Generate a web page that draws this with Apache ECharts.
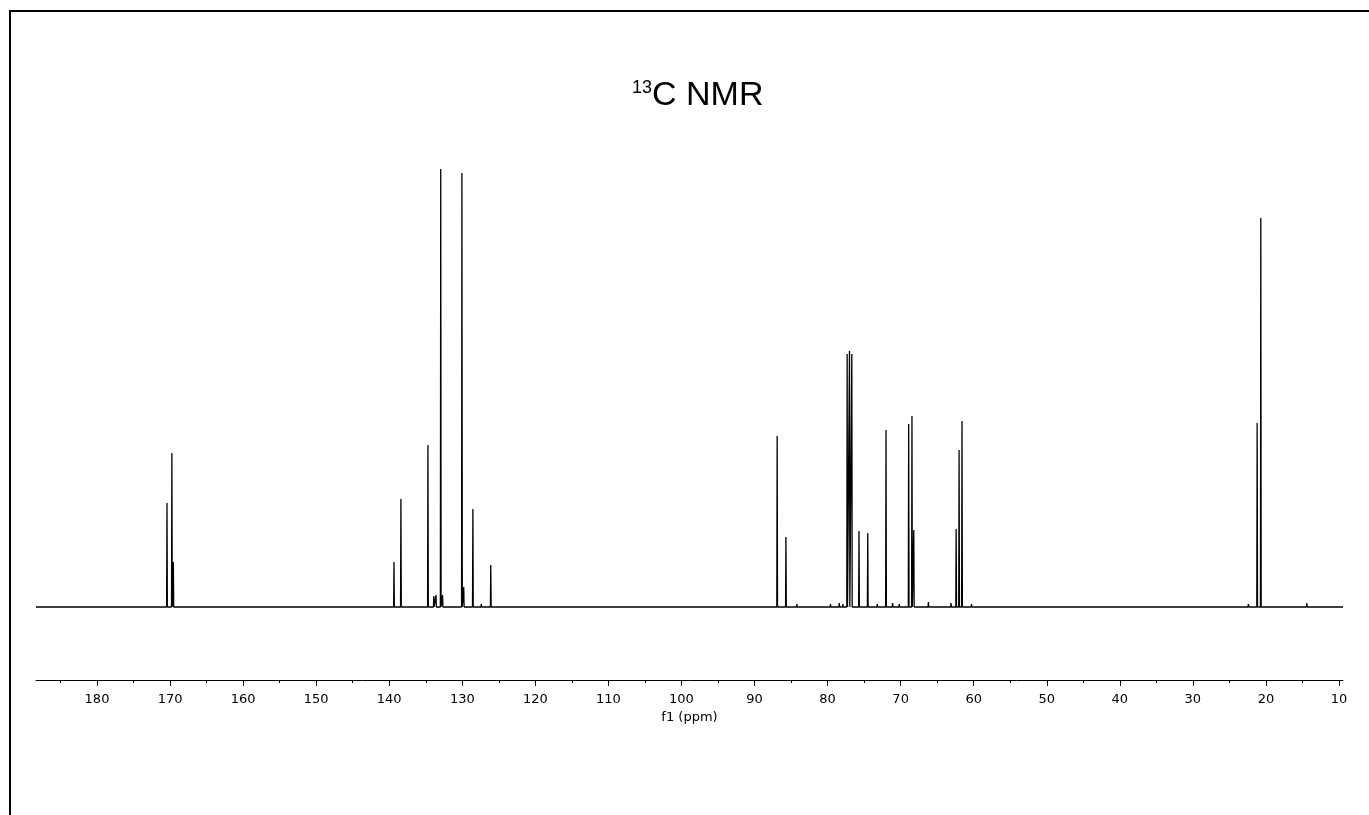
<!DOCTYPE html>
<html>
<head>
<meta charset="utf-8">
<title>13C NMR</title>
<script src="https://cdn.jsdelivr.net/npm/echarts@6/dist/echarts.min.js"></script>
<style>
  html, body { margin: 0; padding: 0; background: #fff; }
  #chart { width: 1369px; height: 815px; }
</style>
</head>
<body>
<div id="chart"></div>
<script>
// Chemical shift range shown on the f1 axis (ppm, drawn high to low)
const shiftMax = 188.35;
const shiftMin = 9.45;

// Resolved signals: chemical shift (ppm) and relative intensity
const peakShifts = [
  170.42, 169.75, 169.55,
  139.35, 138.40, 134.70, 133.90, 133.60, 132.95, 132.70,
  130.05, 129.80, 128.55, 126.10,
  86.90, 85.70,
  77.32, 77.00, 76.68,
  75.70, 74.50, 72.00,
  68.90, 68.45, 68.20,
  62.40, 62.00, 61.60,
  21.20, 20.70
];
const peakIntensities = [
  104, 154, 45,
  45, 108, 162, 11, 12, 438, 12,
  434, 20, 98, 42,
  171, 70,
  253, 256, 253,
  76, 74, 177,
  183, 191, 77,
  78, 157, 186,
  184, 389
];

// Small features sitting on the baseline
const minorShifts = [
  171.2, 168.6, 141.0, 136.2, 127.4, 122.5, 96.0, 88.6, 84.2, 82.6,
  79.6, 78.4, 77.9, 73.2, 71.1, 70.2, 66.2, 63.1, 60.3, 57.5, 22.4, 14.4
];
const minorIntensities = [
  2, -2, 2, 2, 3, -2, 2, 2, 3, 2,
  3, 4, 3, 3, 4, 3, 5, 4, 3, 2, 3, 4
];

// Axis tick labels (ppm)
const majorTicks = [180, 170, 160, 150, 140, 130, 120, 110, 100, 90, 80, 70, 60, 50, 40, 30, 20, 10];
const minorTicks = [185, 175, 165, 155, 145, 135, 125, 115, 105, 95, 85, 75, 65, 55, 45, 35, 25, 15];

// Build the trace: each signal is a narrow stick rising from the baseline
const lineWidthPpm = 0.05;
const signals = [];
peakShifts.forEach((s, i) => signals.push([s, peakIntensities[i]]));
minorShifts.forEach((s, i) => signals.push([s, minorIntensities[i]]));
signals.sort((a, b) => b[0] - a[0]);

const trace = [[shiftMax, 0]];
signals.forEach(([s, h]) => {
  trace.push([s + lineWidthPpm, 0]);
  trace.push([s, h]);
  trace.push([s - lineWidthPpm, 0]);
});
trace.push([shiftMin, 0]);

const chart = echarts.init(document.getElementById('chart'), null, { renderer: 'canvas' });

const tickFont = 'DejaVu Sans, Verdana';

chart.setOption({
  animation: false,
  backgroundColor: '#ffffff',
  title: {
    text: '{sup|13}{main|C NMR}',
    left: 627,
    top: 74,
    textStyle: {
      fontWeight: 'normal',
      rich: {
        sup: { fontFamily: 'Liberation Sans, Arial', fontSize: 18, fontWeight: 'normal', color: '#000', verticalAlign: 'top', padding: [0, 0, 14, 0] },
        main: { fontFamily: 'Liberation Sans, Arial', fontSize: 34, fontWeight: 'normal', color: '#000', verticalAlign: 'bottom' }
      }
    }
  },
  grid: { left: 36, right: 26, top: 169, bottom: 135 },
  xAxis: [
    {
      type: 'value',
      inverse: true,
      min: shiftMin,
      max: shiftMax,
      position: 'bottom',
      name: 'f1 (ppm)',
      nameLocation: 'middle',
      nameGap: 28,
      nameTextStyle: { fontFamily: tickFont, fontSize: 13, color: '#000' },
      axisLine: { show: true, onZero: false, lineStyle: { color: '#000', width: 1 } },
      axisTick: { show: true, length: 6, customValues: majorTicks, lineStyle: { color: '#000', width: 1 } },
      axisLabel: { show: true, customValues: majorTicks, margin: 13, fontFamily: tickFont, fontSize: 13, color: '#000' },
      splitLine: { show: false }
    },
    {
      type: 'value',
      inverse: true,
      min: shiftMin,
      max: shiftMax,
      position: 'bottom',
      axisLine: { show: false, onZero: false },
      axisTick: { show: true, length: 3, customValues: minorTicks, lineStyle: { color: '#000', width: 1 } },
      axisLabel: { show: false },
      splitLine: { show: false }
    }
  ],
  yAxis: {
    type: 'value',
    min: -73,
    max: 438,
    show: false
  },
  series: [
    {
      type: 'line',
      xAxisIndex: 0,
      data: trace,
      showSymbol: false,
      symbol: 'none',
      lineStyle: { color: '#000', width: 1.3 },
      silent: true
    }
  ],
  graphic: [
    {
      type: 'rect',
      shape: { x: 10, y: 11, width: 1400, height: 900 },
      style: { fill: null, stroke: '#000', lineWidth: 2 },
      silent: true
    }
  ]
});
</script>
</body>
</html>
